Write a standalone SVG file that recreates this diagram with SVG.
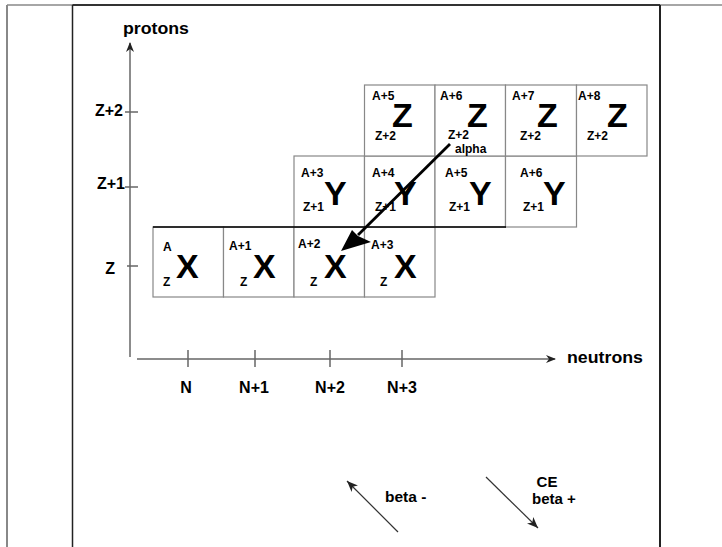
<svg xmlns="http://www.w3.org/2000/svg" width="722" height="547" viewBox="0 0 722 547">
<style>
text{font-family:"Liberation Sans",Arial,Helvetica,sans-serif;font-weight:bold;fill:#000}
.cell{fill:#fff;stroke:#888;stroke-width:1.2}
.big{font-size:34px}
.sm{font-size:12px}
.ax{stroke:#666;stroke-width:1.5;fill:none}
.lbl{font-size:16px}
.thin{stroke:#333;stroke-width:1.2;fill:none}
</style>
<defs>
<marker id="axh" markerWidth="10" markerHeight="8" refX="9" refY="4" orient="auto" markerUnits="userSpaceOnUse">
<path d="M0,0 L10,4 L0,8 L3,4 Z" fill="#222"/>
</marker>
<marker id="sh" markerWidth="12" markerHeight="10" refX="11" refY="5" orient="auto" markerUnits="userSpaceOnUse">
<path d="M0,0.5 L11,5 L0,9.5 L3,5 Z" fill="#222"/>
</marker>
</defs>
<rect width="722" height="547" fill="#fff"/>
<g id="frame">
<line x1="7" y1="5" x2="7" y2="547" stroke="#888" stroke-width="2"/>
<line x1="7" y1="5" x2="722" y2="5" stroke="#888" stroke-width="1.5"/>
<line x1="72.5" y1="5" x2="660" y2="5" stroke="#333" stroke-width="2"/>
<line x1="72.5" y1="5" x2="72.5" y2="547" stroke="#222" stroke-width="1.5"/>
<line x1="660" y1="5" x2="660" y2="547" stroke="#222" stroke-width="2"/>
</g>
<g id="axes">
<line class="ax" x1="130" y1="357" x2="130" y2="43" marker-end="url(#axh)"/>
<line class="ax" x1="137" y1="359" x2="555" y2="359" marker-end="url(#axh)"/>
<line class="ax" x1="125" y1="112" x2="138" y2="112"/>
<line class="ax" x1="125" y1="187" x2="138" y2="187"/>
<line class="ax" x1="127" y1="266" x2="138" y2="266"/>
<line class="ax" x1="188" y1="350" x2="188" y2="367"/>
<line class="ax" x1="255" y1="350" x2="255" y2="367"/>
<line class="ax" x1="330" y1="350" x2="330" y2="367"/>
<line class="ax" x1="402" y1="350" x2="402" y2="367"/>
<text x="123" y="34" font-size="16.5" textLength="66" lengthAdjust="spacingAndGlyphs">protons</text>
<text x="567" y="363" font-size="16.5" textLength="76" lengthAdjust="spacingAndGlyphs">neutrons</text>
<text class="lbl" x="123" y="116" text-anchor="end">Z+2</text>
<text class="lbl" x="125" y="189" text-anchor="end">Z+1</text>
<text class="lbl" x="115" y="274" text-anchor="end">Z</text>
<text class="lbl" x="186" y="393" text-anchor="middle">N</text>
<text class="lbl" x="254" y="393" text-anchor="middle">N+1</text>
<text class="lbl" x="330" y="393" text-anchor="middle">N+2</text>
<text class="lbl" x="402" y="393" text-anchor="middle">N+3</text>
</g>
<g id="cell-X-A">
<rect class="cell" x="153" y="227" width="70.5" height="70"/>
<text class="sm" x="163" y="251" font-size="11">A</text>
<text class="sm" x="163" y="286" font-size="11">Z</text>
<text class="big" x="176" y="278">X</text>
</g>
<g id="cell-X-A1">
<rect class="cell" x="223.5" y="227" width="70.5" height="70"/>
<text class="sm" x="229" y="250">A+1</text>
<text class="sm" x="240" y="286" font-size="11">Z</text>
<text class="big" x="253" y="278">X</text>
</g>
<g id="cell-X-A2">
<rect class="cell" x="294" y="227" width="70.5" height="70"/>
<text class="sm" x="298" y="248">A+2</text>
<text class="sm" x="310" y="286" font-size="11">Z</text>
<text class="big" x="324" y="278">X</text>
</g>
<g id="cell-X-A3">
<rect class="cell" x="364.5" y="227" width="70.5" height="70"/>
<text class="sm" x="371" y="249">A+3</text>
<text class="sm" x="380" y="286" font-size="11">Z</text>
<text class="big" x="394" y="278">X</text>
</g>
<g id="cell-Y-A3">
<rect class="cell" x="294" y="156" width="70.5" height="71"/>
<text class="sm" x="301" y="177">A+3</text>
<text class="sm" x="303" y="211">Z+1</text>
<text class="big" x="324" y="205">Y</text>
</g>
<g id="cell-Y-A4">
<rect class="cell" x="364.5" y="156" width="70.5" height="71"/>
<text class="sm" x="372" y="177">A+4</text>
<text class="sm" x="375" y="211">Z+1</text>
<text class="big" x="394" y="205">Y</text>
</g>
<g id="cell-Y-A5">
<rect class="cell" x="435" y="156" width="70.5" height="71"/>
<text class="sm" x="445" y="177">A+5</text>
<text class="sm" x="449" y="211">Z+1</text>
<text class="big" x="469" y="205">Y</text>
</g>
<g id="cell-Y-A6">
<rect class="cell" x="505.5" y="156" width="71" height="71"/>
<text class="sm" x="520" y="177">A+6</text>
<text class="sm" x="523" y="211">Z+1</text>
<text class="big" x="543" y="205">Y</text>
</g>
<g id="cell-Z-A5">
<rect class="cell" x="364.5" y="85" width="70.5" height="71"/>
<text class="sm" x="372" y="100">A+5</text>
<text class="sm" x="375" y="140">Z+2</text>
<text class="big" x="392" y="127">Z</text>
</g>
<g id="cell-Z-A6">
<rect class="cell" x="435" y="85" width="70.5" height="71"/>
<text class="sm" x="440" y="100">A+6</text>
<text class="sm" x="448" y="139">Z+2</text>
<text class="big" x="467" y="127">Z</text>
<text class="sm" x="455" y="153" font-size="10.5">alpha</text>
</g>
<g id="cell-Z-A7">
<rect class="cell" x="505.5" y="85" width="71" height="71"/>
<text class="sm" x="512" y="100">A+7</text>
<text class="sm" x="520" y="140">Z+2</text>
<text class="big" x="537" y="127">Z</text>
</g>
<g id="cell-Z-A8">
<rect class="cell" x="576.5" y="85" width="70.5" height="71"/>
<text class="sm" x="578" y="100">A+8</text>
<text class="sm" x="587" y="140">Z+2</text>
<text class="big" x="607" y="127">Z</text>
</g>
<line x1="153" y1="227" x2="506" y2="227" stroke="#000" stroke-width="1.3"/>
<g id="connectors">
<line x1="450" y1="144" x2="358" y2="235" stroke="#000" stroke-width="2.8"/>
<path d="M341,251 L352,230 L358,236 L371,242 Z" fill="#000"/>
<line class="thin" x1="398" y1="532" x2="347" y2="481" marker-end="url(#sh)"/>
<line class="thin" x1="486" y1="477" x2="538" y2="528" marker-end="url(#sh)"/>
</g>
<g id="legend">
<text x="385" y="502" font-size="15.5">beta -</text>
<text x="547" y="487" font-size="15" text-anchor="middle">CE</text>
<text x="554" y="504" font-size="15" text-anchor="middle">beta +</text>
</g>
</svg>
